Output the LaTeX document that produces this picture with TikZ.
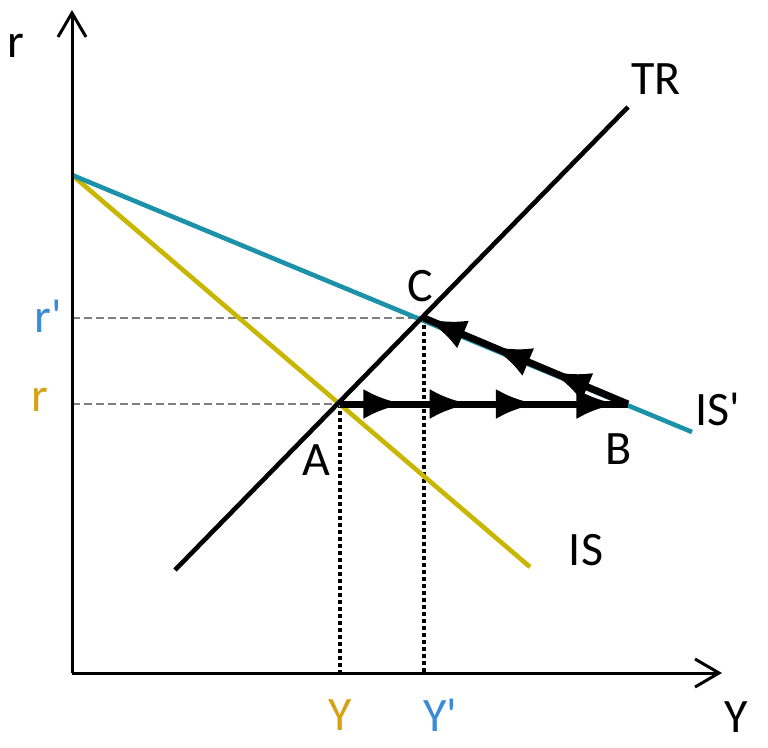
\documentclass[tikz,border=0pt]{standalone}
\usepackage{fontspec}
\setmainfont{Carlito}
\usetikzlibrary{arrows.meta,decorations.markings}
\definecolor{isyellow}{RGB}{200,182,0}
\definecolor{isteal}{RGB}{28,145,170}
\definecolor{labgold}{RGB}{214,162,20}
\definecolor{labblue}{RGB}{58,140,214}
\newcommand{\prm}{\textquotesingle}
\begin{document}
\begin{tikzpicture}[x=1pt,y=-1pt,
  axis/.style={line width=3pt,-{Straight Barb[length=24pt,width=28pt]}},
  curve/.style={line width=4.6pt},
  guide/.style={gray,line width=1.5pt,dash pattern=on 8pt off 4pt},
  drop/.style={line width=3.2pt,dash pattern=on 3.5pt off 3.5pt},
  lab/.style={font=\fontsize{48}{56}\selectfont,inner sep=0pt},
  path AB/.style={line width=7pt,postaction={decorate},decoration={markings,
    mark=at position 0.22 with {\arrow{Latex[length=40pt,width=30pt]}},
    mark=at position 0.45 with {\arrow{Latex[length=40pt,width=30pt]}},
    mark=at position 0.68 with {\arrow{Latex[length=40pt,width=30pt]}},
    mark=at position 0.96 with {\arrow{Latex[length=40pt,width=30pt]}}}},
  path BC/.style={line width=7pt,postaction={decorate},decoration={markings,
    mark=at position 0.38 with {\arrow{Latex[length=40pt,width=30pt]}},
    mark=at position 0.67 with {\arrow{Latex[length=40pt,width=30pt]}},
    mark=at position 0.99 with {\arrow{Latex[length=40pt,width=30pt]}}}}]
\useasboundingbox (0,0) rectangle (768,747);
% points
\coordinate (O) at (72,673);
\coordinate (ytop) at (72,10);
\coordinate (xend) at (722,673);
\coordinate (K) at (72,175);
\coordinate (isend) at (530,567);
\coordinate (ispend) at (692,432);
\coordinate (trs) at (175,570);
\coordinate (tre) at (628,107);
\coordinate (A) at (340,404);
\coordinate (B) at (628,404);
\coordinate (C) at (424,318);
\coordinate (rp) at (72,318);
\coordinate (r) at (72,404);
\coordinate (y) at (340,673);
\coordinate (yp) at (424,673);
% guides
\draw[guide] (rp) -- (C);
\draw[guide] (r) -- (A);
\draw[drop] (A) -- (y);
\draw[drop] (C) -- (yp);
% curves
\draw[curve,isyellow] (K) -- (isend);
\draw[curve,isteal] (K) -- (ispend);
\draw[curve] (trs) -- (tre);
% axes
\draw[axis] (O) -- (ytop);
\draw[axis] (O) -- (xend);
% adjustment path
\draw[path AB] (A) -- (B);
\draw[path BC] (B) -- (C);
% labels
\node[lab] (lr) at (16,46) {r};
\node[lab] (lY) at (736,717) {Y};
\node[lab,text=labblue] (lrp) at (48,316) {r\prm};
\node[lab,text=labgold] (lrr) at (40,400) {r};
\node[lab,text=labgold] (lyy) at (340,715) {Y};
\node[lab,text=labblue] (lyp) at (440,715) {Y\prm};
\node[lab] (lA) at (316,460) {A};
\node[lab] (lB) at (619,449) {B};
\node[lab] (lC) at (420,286) {C};
\node[lab] (lTR) at (656,79) {TR};
\node[lab] (lISp) at (718,409) {IS\prm};
\node[lab] (lIS) at (586,550) {IS};
\end{tikzpicture}
\end{document}
